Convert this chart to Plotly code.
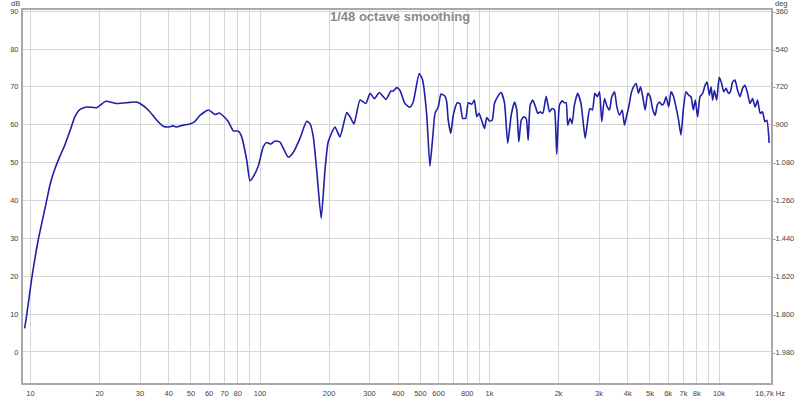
import plotly.graph_objects as go

# Frequency response (Hz, dB)
freq = [9.43, 9.63, 10.1, 10.8, 11.6, 12.2, 12.8, 13.4, 14.1, 14.9, 15.6, 16.4, 17.6, 19.4,
        21.3, 23.7, 27.1, 29.0, 30.0, 32.6, 35.5, 37.9, 39.8, 41.9, 43.3, 46.3, 49.5, 52.1,
        54.8, 59.6, 63.7, 66.5, 69.2, 72.8, 76.5, 80.4, 83.2, 87.5, 90.4, 93.5, 98.3, 103.4,
        107, 111.3, 116.2, 122.2, 132.8, 140, 149.3, 159.7, 165.1, 170.7, 176.6, 184.8,
        191.9, 198.3, 212.2, 223.1, 238.8, 246.7, 256.8, 272.7, 289.3, 301.6, 315, 331, 354,
        372, 381, 394, 407, 428, 450, 465, 494, 511, 532, 550, 566, 579, 598, 615, 640, 651,
        661, 678, 695, 724, 743, 764, 788, 808, 837, 859, 880, 900, 924, 951, 973, 1000,
        1027, 1051, 1087, 1124, 1162, 1201, 1243, 1285, 1315, 1342, 1375, 1411, 1445, 1474,
        1504, 1544, 1587, 1623, 1663, 1707, 1766, 1826, 1875, 1919, 1963, 2018, 2074, 2122,
        2158, 2192, 2245, 2290, 2344, 2422, 2505, 2563, 2613, 2674, 2736, 2810, 2877, 2952,
        3016, 3085, 3170, 3258, 3333, 3411, 3507, 3589, 3685, 3786, 3873, 3964, 4045, 4144,
        4241, 4356, 4457, 4549, 4654, 4767, 4894, 5014, 5148, 5273, 5380, 5506, 5635, 5749,
        5882, 6036, 6181, 6343, 6495, 6667, 6829, 6988, 7181, 7372, 7550, 7727, 7883, 8067,
        8264, 8486, 8694, 8870, 9081, 9236, 9385, 9548, 9773, 10020, 10270, 10480, 10740,
        10990, 11210, 11470, 11740, 12050, 12340, 12670, 12980, 13320, 13640, 14000, 14380,
        14720, 15120, 15470, 15850, 16170, 16540]
spl_db = [6.2, 9.8, 19.0, 29.5, 38.3, 44.5, 48.5, 51.5, 54.6, 58.6, 62.1, 64.0, 64.7, 64.5,
          66.2, 65.6, 65.9, 66.0, 65.6, 63.9, 61.2, 59.6, 59.4, 59.7, 59.4, 59.9, 60.2, 60.9,
          62.5, 63.9, 62.7, 63.1, 62.3, 60.8, 58.4, 58.3, 56.8, 50.7, 45.2, 46.3, 49.1, 54.2,
          55.3, 54.9, 55.7, 55.4, 51.4, 52.8, 56.4, 60.9, 60.3, 56.8, 48.0, 35.3,
          48.0, 55.5, 59.4, 56.8, 63.2, 62.1, 60.2, 66.5, 65.6, 68.3, 66.9, 68.5, 66.7,
          68.9, 68.9, 69.8, 69.1, 65.6, 64.6, 66.0, 73.5, 71.8, 63.0, 49.1, 56.8, 63.0, 64.7, 68.1, 67.5, 66.0,
          61.2, 57.7, 62.5, 65.8, 65.6, 61.7, 61.7, 65.8, 65.4, 66.5, 62.1, 63.0, 61.2, 59.0, 61.9, 61.0,
          61.2, 65.6, 67.5, 68.5, 65.8, 55.1, 62.5, 66.0, 63.9, 55.5, 61.2, 62.1, 61.7, 55.9,
          65.2, 66.5, 64.7, 63.0, 63.4, 63.0, 67.5, 63.4, 64.3, 63.9, 52.2, 65.2, 66.3, 65.8,
          65.8, 59.9, 61.7, 60.3, 65.2, 68.3, 65.6, 60.3, 56.4, 60.8, 64.3, 63.9, 68.3, 67.4,
          68.7, 60.8, 66.9, 64.7, 63.9, 67.4, 68.7, 64.7, 62.5, 63.9, 59.9, 62.5, 64.7, 68.3,
          70.0, 70.9, 68.3, 70.0, 67.4, 63.9, 68.3, 67.4, 63.9, 62.5, 65.2, 66.0, 65.2, 65.6,
          67.4, 64.7, 68.7, 67.4, 64.7, 61.2, 57.3, 63.9, 68.7, 67.8, 67.4, 63.9, 66.5, 62.1,
          67.4, 68.3, 70.4, 71.3, 67.8, 70.0, 66.5, 69.1, 66.5, 72.5, 70.9, 68.7, 69.6,
          68.3, 68.7, 71.3, 71.8, 69.1, 67.4, 69.6, 70.4, 68.3, 65.6, 66.9, 64.7,
          66.5, 63.0, 63.4, 60.8, 61.2, 55.2]

x_grid = [10, 20, 30, 40, 50, 60, 70, 80, 90, 100, 200, 300, 400, 500, 600, 700, 800, 900,
          1000, 2000, 3000, 4000, 5000, 6000, 7000, 8000, 9000, 10000, 16700]
x_labels = ["10", "20", "30", "40", "50", "60", "70", "80", "", "100", "200", "300", "400",
            "500", "600", "", "800", "", "1k", "2k", "3k", "4k", "5k", "6k", "7k", "8k", "",
            "10k", "16,7k Hz"]
db_ticks = [0, 10, 20, 30, 40, 50, 60, 70, 80, 90]
deg_ticks = [-360, -540, -720, -900, -1080, -1260, -1440, -1620, -1800, -1980]
deg_labels = ["-360", "-540", "-720", "-900", "-1.080", "-1.260", "-1.440", "-1.620",
              "-1.800", "-1.980"]

DB_MIN, DB_MAX = -8.2, 90.3
def to_deg(v):
    return -360 + (v - 90) * 18

fig = go.Figure()
fig.add_trace(go.Scatter(x=freq, y=spl_db, mode="lines",
                         line=dict(color="#1f1fa8", width=1.6, shape="spline", smoothing=0.5),
                         showlegend=False, hoverinfo="skip"))
fig.add_trace(go.Scatter(x=[None], y=[None], yaxis="y2", showlegend=False, hoverinfo="skip"))

FONT = "Liberation Sans, Arial, sans-serif"
tick_font = dict(family=FONT, size=7.5, color="#444444")
grid_c = "#d6d6d6"
line_c = "#a9a9a9"

fig.update_layout(
    width=800, height=397,
    margin=dict(l=23, r=29, t=10, b=14, autoexpand=False),
    paper_bgcolor="white", plot_bgcolor="white",
    xaxis=dict(type="log", range=[0.9673, 4.2266], tickvals=x_grid, ticktext=x_labels,
               showgrid=True, gridcolor=grid_c, gridwidth=1, zeroline=False,
               showline=True, linecolor=line_c, linewidth=2, mirror=True, automargin=False,
               ticks="", tickfont=tick_font, ticklabelstandoff=2),
    yaxis=dict(range=[DB_MIN, DB_MAX], tickvals=db_ticks, showgrid=True, gridcolor=grid_c,
               zeroline=False, showline=True, linecolor=line_c, linewidth=2, mirror=True,
               automargin=False, ticks="", tickfont=tick_font, ticklabelstandoff=1),
    yaxis2=dict(range=[to_deg(DB_MIN), to_deg(DB_MAX)], tickvals=deg_ticks, ticktext=deg_labels,
                overlaying="y", side="right", showgrid=False, zeroline=False, automargin=False,
                showline=False, ticks="", tickfont=tick_font, ticklabelstandoff=1),
    annotations=[
        dict(text="<b>1/48 octave smoothing</b>", xref="paper", yref="paper",
             x=(400 - 23) / 748, y=1 - 6 / 373, xanchor="center", yanchor="middle",
             showarrow=False, font=dict(family=FONT, size=13, color="#8a8a8a")),
        dict(text="dB", xref="paper", yref="paper", x=(22 - 23) / 748, y=1 + 6 / 373,
             xanchor="right", yanchor="middle", showarrow=False, font=tick_font),
        dict(text="deg", xref="paper", yref="paper", x=(773 - 23) / 748, y=1 + 6 / 373,
             xanchor="left", yanchor="middle", showarrow=False, font=tick_font),
    ],
)

fig.write_html("out.html")
